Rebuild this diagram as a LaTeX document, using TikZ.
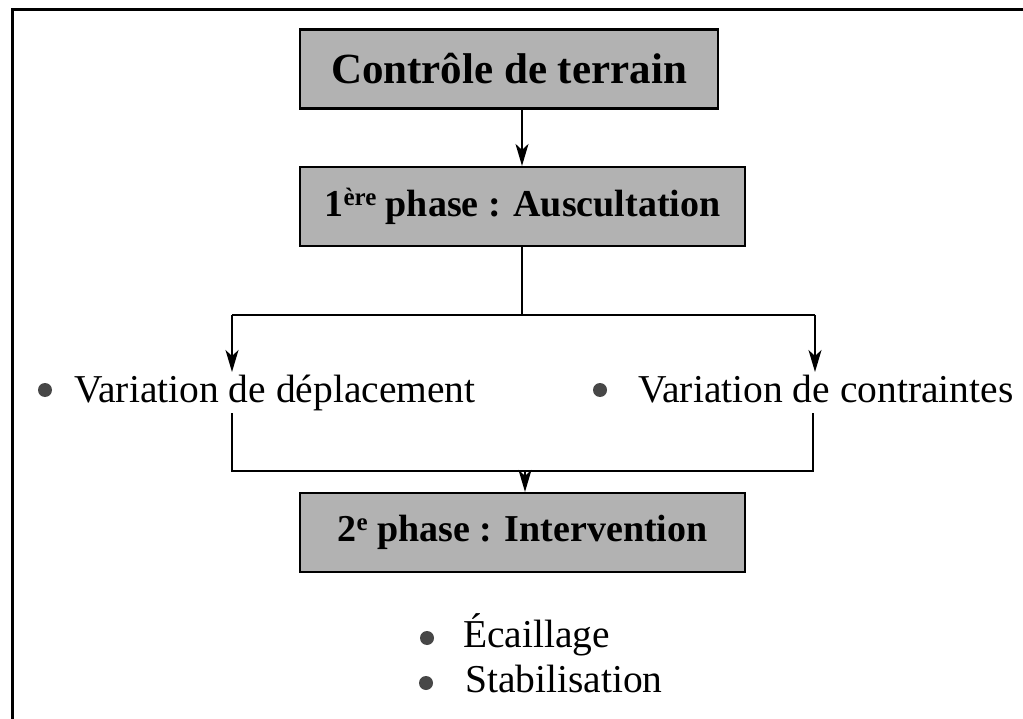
\documentclass[tikz,border=0pt]{standalone}
\usepackage{fontspec}
\setmainfont{Liberation Serif}
\usetikzlibrary{arrows.meta}
\newcommand{\supx}[1]{\raisebox{11pt}{\fontsize{25}{25}\selectfont #1}}
\begin{document}
\begin{tikzpicture}[x=1pt,y=-1pt,
  phasebox/.style={draw=black,line width=2.2pt,fill=black!30,minimum height=79pt,inner sep=0pt,
     font=\fontsize{38}{44}\selectfont\bfseries},
  itemtext/.style={inner sep=0pt,anchor=base west,font=\fontsize{39.5}{46}\selectfont},
  bulletdot/.style={circle,fill=black!72,inner sep=0pt,minimum size=14pt},
  conn/.style={line width=1.6pt},
  arr/.style={conn,-{Stealth[length=22pt,width=13pt,inset=6pt]}}]
\useasboundingbox (0,0) rectangle (1023,719);
\begin{scope}
\clip (0,0) rectangle (1023,719);
\draw[line width=3pt] (12,730) -- (12,10) -- (1023,10);
\end{scope}

\node[phasebox,minimum width=418pt,font=\fontsize{43}{50}\selectfont\bfseries] (b1) at (509,69) {Contrôle de terrain};
\node[phasebox,minimum width=445pt] (b2) at (522.5,206.5) {1\supx{ère} phase : Auscultation};
\node[phasebox,minimum width=445pt] (b3) at (522.5,532.5) {2\supx{e} phase : Intervention};

\draw[arr] (b1.south -| 522,0) -- (b2.north -| 522,0);

% upper fork
\coordinate (fork) at (522,315);
\coordinate (forkl) at (232,315);
\coordinate (forkr) at (815,315);
\coordinate (tipl) at (232,372);
\coordinate (tipr) at (815,372);
\draw[conn] (b2.south -| fork) -- (fork);
\draw[conn] (forkl) -- (forkr);
\draw[arr] (forkl) -- (tipl);
\draw[arr] (forkr) -- (tipr);

% items
\node[bulletdot] (d1) at (45,390) {};
\node[itemtext] (v1) at (74,402) {Variation de déplacement};
\node[bulletdot] (d2) at (600,390) {};
\node[itemtext] (v2) at (638,402) {Variation de contraintes};

% lower bracket
\coordinate (jl) at (232,413);
\coordinate (jr) at (813,413);
\coordinate (jbl) at (232,471);
\coordinate (jbr) at (813,471);
\coordinate (jm) at (525,471);
\draw[conn] (jl) -- (jbl) -- (jbr) -- (jr);
\draw[arr] (jm) -- (jm |- b3.north);

% final items
\node[bulletdot] (d3) at (427,638) {};
\node[itemtext] (e1) at (463,647) {Écaillage};
\node[bulletdot] (d4) at (426,683) {};
\node[itemtext] (e2) at (465,692) {Stabilisation};
\end{tikzpicture}
\end{document}
